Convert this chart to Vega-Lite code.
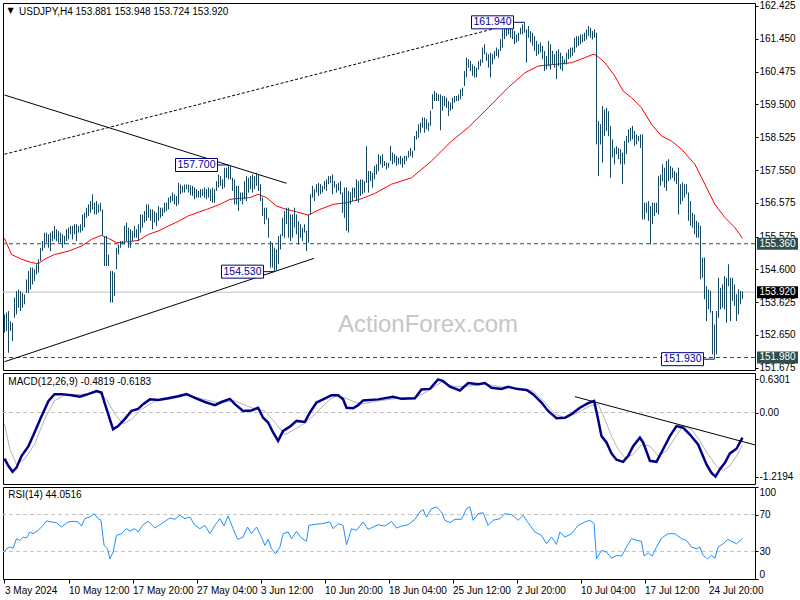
{
"$schema":"https://vega.github.io/schema/vega-lite/v6.json",
"background":"white",
"padding":{"left":2,"top":0,"right":0,"bottom":0},
"spacing":3,
"bounds":"flush",
"config":{
"view":{"stroke":"#000000","strokeWidth":1},
"axis":{"labelFont":"Liberation Sans","labelFontSize":10,"labelColor":"#000000","tickColor":"#000000","tickSize":3,"labelPadding":1,"domain":false,"grid":false,"labelOverlap":false},
"text":{"font":"Liberation Sans"}
},
"datasets":{
"bars":[
{"i":0,"p":152.72,"h":153.26},{"i":1,"p":152.77,"h":153.31},{"i":2,"p":152.12,"h":153.36},{"i":3,"p":152.77,"h":153.06},{"i":4,"p":152.47,"h":153.01},{"i":5,"p":153.16,"h":153.76},{"i":6,"p":153.26,"h":153.95},{"i":7,"p":153.46,"h":154.0},{"i":8,"p":153.36,"h":153.95},{"i":9,"p":153.46,"h":153.9},
{"i":10,"p":153.56,"h":153.85},{"i":11,"p":153.9,"h":154.3},{"i":12,"p":153.9,"h":154.55},{"i":13,"p":154.0,"h":154.65},{"i":14,"p":154.15,"h":154.65},{"i":15,"p":154.25,"h":154.6},{"i":16,"p":154.45,"h":154.75},{"i":17,"p":154.5,"h":154.9},{"i":18,"p":154.85,"h":155.24},{"i":19,"p":155.14,"h":155.44},
{"i":20,"p":155.24,"h":155.69},{"i":21,"p":155.39,"h":155.69},{"i":22,"p":155.24,"h":155.64},{"i":23,"p":155.14,"h":155.69},{"i":24,"p":155.44,"h":155.74},{"i":25,"p":155.49,"h":155.89},{"i":26,"p":155.44,"h":155.79},{"i":27,"p":155.39,"h":155.74},{"i":28,"p":155.39,"h":155.69},{"i":29,"p":155.24,"h":155.64},
{"i":30,"p":155.34,"h":155.59},{"i":31,"p":155.44,"h":155.79},{"i":32,"p":155.49,"h":155.84},{"i":33,"p":155.64,"h":155.89},{"i":34,"p":155.49,"h":155.89},{"i":35,"p":155.64,"h":155.94},{"i":36,"p":155.44,"h":155.94},{"i":37,"p":155.69,"h":155.89},{"i":38,"p":155.69,"h":155.94},{"i":39,"p":155.74,"h":156.23},
{"i":40,"p":155.84,"h":156.28},{"i":41,"p":156.13,"h":156.43},{"i":42,"p":156.18,"h":156.53},{"i":43,"p":156.28,"h":156.63},{"i":44,"p":156.38,"h":156.83},{"i":45,"p":156.23,"h":156.58},{"i":46,"p":156.23,"h":156.63},{"i":47,"p":156.28,"h":156.53},{"i":48,"p":156.33,"h":156.58},{"i":49,"p":155.59,"h":156.38},
{"i":50,"p":154.7,"h":155.59},{"i":51,"p":154.7,"h":155.59},{"i":52,"p":154.7,"h":155.04},{"i":53,"p":153.61,"h":154.55},{"i":54,"p":153.61,"h":154.55},{"i":55,"p":153.81,"h":154.5},{"i":56,"p":154.6,"h":155.24},{"i":57,"p":155.04,"h":155.34},{"i":58,"p":155.24,"h":155.44},{"i":59,"p":155.34,"h":155.44},
{"i":60,"p":155.34,"h":155.89},{"i":61,"p":155.44,"h":155.99},{"i":62,"p":155.24,"h":155.84},{"i":63,"p":155.24,"h":155.79},{"i":64,"p":155.44,"h":155.74},{"i":65,"p":155.54,"h":155.89},{"i":66,"p":155.54,"h":155.79},{"i":67,"p":155.44,"h":155.94},{"i":68,"p":155.69,"h":156.23},{"i":69,"p":155.84,"h":156.23},
{"i":70,"p":155.99,"h":156.33},{"i":71,"p":156.04,"h":156.53},{"i":72,"p":156.13,"h":156.53},{"i":73,"p":156.04,"h":156.38},{"i":74,"p":155.79,"h":156.38},{"i":75,"p":155.99,"h":156.33},{"i":76,"p":155.89,"h":156.28},{"i":77,"p":156.04,"h":156.48},{"i":78,"p":156.13,"h":156.43},{"i":79,"p":156.18,"h":156.43},
{"i":80,"p":156.28,"h":156.58},{"i":81,"p":156.33,"h":156.58},{"i":82,"p":156.38,"h":156.73},{"i":83,"p":156.58,"h":156.78},{"i":84,"p":156.63,"h":156.88},{"i":85,"p":156.53,"h":156.83},{"i":86,"p":156.48,"h":156.78},{"i":87,"p":156.53,"h":157.17},{"i":88,"p":156.83,"h":157.12},{"i":89,"p":156.88,"h":157.08},
{"i":90,"p":156.88,"h":157.12},{"i":91,"p":156.98,"h":157.12},{"i":92,"p":156.88,"h":157.12},{"i":93,"p":156.8,"h":157.1},{"i":94,"p":156.78,"h":157.08},{"i":95,"p":156.68,"h":157.03},{"i":96,"p":156.73,"h":156.98},{"i":97,"p":156.73,"h":156.93},{"i":98,"p":156.73,"h":156.98},{"i":99,"p":156.78,"h":156.98},
{"i":100,"p":156.73,"h":157.03},{"i":101,"p":156.68,"h":156.98},{"i":102,"p":156.73,"h":157.03},{"i":103,"p":156.63,"h":156.98},{"i":104,"p":156.58,"h":157.03},{"i":105,"p":156.58,"h":156.98},{"i":106,"p":156.93,"h":157.22},{"i":107,"p":157.03,"h":157.42},{"i":108,"p":157.08,"h":157.37},{"i":109,"p":156.98,"h":157.27},
{"i":110,"p":157.03,"h":157.62},{"i":111,"p":157.32,"h":157.62},{"i":112,"p":157.27,"h":157.7},{"i":113,"p":157.27,"h":157.67},{"i":114,"p":156.93,"h":157.32},{"i":115,"p":156.53,"h":157.27},{"i":116,"p":156.53,"h":157.08},{"i":117,"p":156.33,"h":157.08},{"i":118,"p":156.63,"h":156.88},{"i":119,"p":156.53,"h":156.88},
{"i":120,"p":156.68,"h":157.22},{"i":121,"p":156.63,"h":157.37},{"i":122,"p":156.88,"h":157.32},{"i":123,"p":156.98,"h":157.37},{"i":124,"p":156.88,"h":157.42},{"i":125,"p":156.98,"h":157.37},{"i":126,"p":157.08,"h":157.47},{"i":127,"p":156.93,"h":157.42},{"i":128,"p":156.63,"h":157.13},{"i":129,"p":156.18,"h":156.73},
{"i":130,"p":155.94,"h":156.43},{"i":131,"p":156.08,"h":156.43},{"i":132,"p":155.54,"h":156.13},{"i":133,"p":154.65,"h":155.44},{"i":134,"p":154.65,"h":155.39},{"i":135,"p":154.53,"h":155.24},{"i":136,"p":154.55,"h":155.19},{"i":137,"p":154.75,"h":155.59},{"i":138,"p":155.19,"h":155.64},{"i":139,"p":155.59,"h":156.13},
{"i":140,"p":155.54,"h":156.33},{"i":141,"p":155.94,"h":156.43},{"i":142,"p":155.54,"h":156.43},{"i":143,"p":155.44,"h":156.23},{"i":144,"p":155.54,"h":156.23},{"i":145,"p":155.84,"h":156.43},{"i":146,"p":155.64,"h":156.23},{"i":147,"p":155.34,"h":156.03},{"i":148,"p":155.54,"h":155.94},{"i":149,"p":155.44,"h":155.84},
{"i":150,"p":155.69,"h":155.94},{"i":151,"p":155.14,"h":155.74},{"i":152,"p":155.39,"h":156.23},{"i":153,"p":156.23,"h":156.83},{"i":154,"p":156.73,"h":157.08},{"i":155,"p":156.63,"h":156.98},{"i":156,"p":156.88,"h":157.13},{"i":157,"p":156.78,"h":157.17},{"i":158,"p":156.83,"h":157.13},{"i":159,"p":156.88,"h":157.08},
{"i":160,"p":156.98,"h":157.22},{"i":161,"p":156.93,"h":157.27},{"i":162,"p":157.13,"h":157.37},{"i":163,"p":157.17,"h":157.37},{"i":164,"p":156.83,"h":157.42},{"i":165,"p":157.03,"h":157.22},{"i":166,"p":156.88,"h":157.13},{"i":167,"p":156.93,"h":157.17},{"i":168,"p":156.83,"h":157.22},{"i":169,"p":156.28,"h":156.88},
{"i":170,"p":156.13,"h":157.03},{"i":171,"p":155.74,"h":157.03},{"i":172,"p":155.69,"h":156.93},{"i":173,"p":156.53,"h":156.88},{"i":174,"p":156.63,"h":157.03},{"i":175,"p":156.73,"h":157.03},{"i":176,"p":156.63,"h":157.27},{"i":177,"p":156.58,"h":157.22},{"i":178,"p":156.78,"h":157.27},{"i":179,"p":156.83,"h":157.27},
{"i":180,"p":156.88,"h":157.22},{"i":181,"p":157.17,"h":158.26},{"i":182,"p":156.88,"h":157.52},{"i":183,"p":157.22,"h":157.52},{"i":184,"p":157.03,"h":157.47},{"i":185,"p":157.27,"h":157.67},{"i":186,"p":157.42,"h":157.72},{"i":187,"p":157.52,"h":158.02},{"i":188,"p":157.72,"h":157.97},{"i":189,"p":157.62,"h":158.02},
{"i":190,"p":157.67,"h":157.82},{"i":191,"p":157.57,"h":157.77},{"i":192,"p":157.62,"h":157.77},{"i":193,"p":157.82,"h":158.27},{"i":194,"p":157.72,"h":158.07},{"i":195,"p":157.77,"h":158.02},{"i":196,"p":157.67,"h":157.97},{"i":197,"p":157.72,"h":157.92},{"i":198,"p":157.72,"h":157.97},{"i":199,"p":157.62,"h":157.92},
{"i":200,"p":157.72,"h":157.97},{"i":201,"p":157.82,"h":157.97},{"i":202,"p":157.92,"h":158.12},{"i":203,"p":157.97,"h":158.21},{"i":204,"p":157.92,"h":158.12},{"i":205,"p":158.12,"h":158.56},{"i":206,"p":158.46,"h":158.71},{"i":207,"p":158.51,"h":158.91},{"i":208,"p":158.66,"h":158.96},{"i":209,"p":158.81,"h":159.11},
{"i":210,"p":158.66,"h":159.11},{"i":211,"p":158.76,"h":159.06},{"i":212,"p":158.71,"h":158.96},{"i":213,"p":158.86,"h":159.31},{"i":214,"p":159.36,"h":159.8},{"i":215,"p":159.6,"h":159.9},{"i":216,"p":159.6,"h":159.85},{"i":217,"p":159.6,"h":159.8},{"i":218,"p":158.73,"h":159.8},{"i":219,"p":159.31,"h":159.75},
{"i":220,"p":159.45,"h":159.75},{"i":221,"p":159.4,"h":159.7},{"i":222,"p":159.16,"h":159.6},{"i":223,"p":159.31,"h":159.55},{"i":224,"p":159.36,"h":159.7},{"i":225,"p":159.55,"h":159.75},{"i":226,"p":159.6,"h":159.75},{"i":227,"p":159.6,"h":159.8},{"i":228,"p":159.65,"h":159.95},{"i":229,"p":159.75,"h":160.0},
{"i":230,"p":160.05,"h":160.49},{"i":231,"p":160.3,"h":160.89},{"i":232,"p":160.59,"h":160.84},{"i":233,"p":160.49,"h":160.79},{"i":234,"p":160.35,"h":160.69},{"i":235,"p":160.3,"h":160.64},{"i":236,"p":160.3,"h":160.59},{"i":237,"p":160.54,"h":160.79},{"i":238,"p":160.64,"h":160.84},{"i":239,"p":160.74,"h":161.19},
{"i":240,"p":160.99,"h":161.29},{"i":241,"p":160.79,"h":161.04},{"i":242,"p":160.59,"h":160.99},{"i":243,"p":160.3,"h":161.04},{"i":244,"p":160.69,"h":160.99},{"i":245,"p":160.84,"h":161.09},{"i":246,"p":160.94,"h":161.19},{"i":247,"p":160.89,"h":161.14},{"i":248,"p":161.09,"h":161.44},{"i":249,"p":161.19,"h":161.73},
{"i":250,"p":161.44,"h":161.78},{"i":251,"p":161.53,"h":161.83},{"i":252,"p":161.58,"h":161.83},{"i":253,"p":161.48,"h":161.88},{"i":254,"p":161.44,"h":161.73},{"i":255,"p":161.29,"h":161.68},{"i":256,"p":161.34,"h":161.58},{"i":257,"p":161.39,"h":161.63},{"i":258,"p":161.58,"h":161.78},{"i":259,"p":161.58,"h":161.88},
{"i":260,"p":161.63,"h":161.94},{"i":261,"p":160.74,"h":161.73},{"i":262,"p":161.48,"h":161.83},{"i":263,"p":161.34,"h":161.68},{"i":264,"p":161.24,"h":161.63},{"i":265,"p":161.09,"h":161.53},{"i":266,"p":160.94,"h":161.39},{"i":267,"p":160.99,"h":161.29},{"i":268,"p":161.04,"h":161.34},{"i":269,"p":160.84,"h":161.24},
{"i":270,"p":160.49,"h":161.09},{"i":271,"p":160.54,"h":160.94},{"i":272,"p":160.64,"h":161.39},{"i":273,"p":160.54,"h":161.29},{"i":274,"p":160.69,"h":161.09},{"i":275,"p":160.59,"h":160.99},{"i":276,"p":160.25,"h":161.09},{"i":277,"p":160.64,"h":161.14},{"i":278,"p":160.54,"h":161.04},{"i":279,"p":160.49,"h":160.94},
{"i":280,"p":160.69,"h":160.84},{"i":281,"p":160.69,"h":161.04},{"i":282,"p":160.84,"h":161.14},{"i":283,"p":160.89,"h":161.19},{"i":284,"p":160.94,"h":161.19},{"i":285,"p":161.04,"h":161.48},{"i":286,"p":161.19,"h":161.53},{"i":287,"p":161.24,"h":161.53},{"i":288,"p":161.29,"h":161.58},{"i":289,"p":161.34,"h":161.58},
{"i":290,"p":161.38,"h":161.63},{"i":291,"p":161.43,"h":161.73},{"i":292,"p":161.53,"h":161.83},{"i":293,"p":161.48,"h":161.78},{"i":294,"p":161.43,"h":161.68},{"i":295,"p":161.48,"h":161.73},{"i":296,"p":158.31,"h":161.63},{"i":297,"p":157.37,"h":159.01},{"i":298,"p":158.31,"h":158.91},{"i":299,"p":157.77,"h":159.45},
{"i":300,"p":158.56,"h":159.35},{"i":301,"p":158.71,"h":159.4},{"i":302,"p":158.56,"h":159.3},{"i":303,"p":157.32,"h":158.86},{"i":304,"p":157.92,"h":158.46},{"i":305,"p":157.72,"h":158.21},{"i":306,"p":158.02,"h":158.26},{"i":307,"p":157.87,"h":158.21},{"i":308,"p":157.72,"h":158.17},{"i":309,"p":157.13,"h":158.07},
{"i":310,"p":157.72,"h":158.41},{"i":311,"p":158.02,"h":158.56},{"i":312,"p":158.36,"h":158.76},{"i":313,"p":158.41,"h":158.81},{"i":314,"p":158.46,"h":158.86},{"i":315,"p":158.26,"h":158.71},{"i":316,"p":158.31,"h":158.61},{"i":317,"p":158.41,"h":158.56},{"i":318,"p":158.21,"h":158.61},{"i":319,"p":156.08,"h":158.61},
{"i":320,"p":156.08,"h":156.58},{"i":321,"p":156.28,"h":156.58},{"i":322,"p":156.04,"h":156.63},{"i":323,"p":155.34,"h":156.48},{"i":324,"p":155.94,"h":156.58},{"i":325,"p":156.18,"h":156.58},{"i":326,"p":156.28,"h":156.58},{"i":327,"p":156.23,"h":157.37},{"i":328,"p":157.08,"h":157.42},{"i":329,"p":157.22,"h":157.72},
{"i":330,"p":157.03,"h":157.62},{"i":331,"p":156.93,"h":157.82},{"i":332,"p":157.22,"h":157.87},{"i":333,"p":157.27,"h":157.67},{"i":334,"p":157.32,"h":157.62},{"i":335,"p":157.22,"h":157.52},{"i":336,"p":157.13,"h":157.47},{"i":337,"p":156.23,"h":157.62},{"i":338,"p":156.53,"h":157.13},{"i":339,"p":156.63,"h":157.18},
{"i":340,"p":156.73,"h":157.13},{"i":341,"p":156.83,"h":157.13},{"i":342,"p":156.04,"h":156.88},{"i":343,"p":155.89,"h":156.63},{"i":344,"p":155.84,"h":156.28},{"i":345,"p":155.64,"h":156.23},{"i":346,"p":155.54,"h":156.04},{"i":347,"p":155.54,"h":155.99},{"i":348,"p":154.3,"h":155.89},{"i":349,"p":154.35,"h":154.95},
{"i":350,"p":153.71,"h":154.95},{"i":351,"p":153.06,"h":154.1},{"i":352,"p":153.41,"h":154.0},{"i":353,"p":153.31,"h":153.96},{"i":354,"p":152.07,"h":153.36},{"i":355,"p":151.93,"h":152.96},{"i":356,"p":152.07,"h":153.36},{"i":357,"p":153.16,"h":154.35},{"i":358,"p":153.41,"h":154.05},{"i":359,"p":153.46,"h":154.15},
{"i":360,"p":153.41,"h":154.4},{"i":361,"p":153.01,"h":154.35},{"i":362,"p":154.1,"h":154.75},{"i":363,"p":153.06,"h":154.35},{"i":364,"p":153.66,"h":154.35},{"i":365,"p":153.51,"h":154.15},{"i":366,"p":153.06,"h":153.86},{"i":367,"p":153.26,"h":154.01},{"i":368,"p":153.56,"h":153.96},{"i":369,"p":153.72,"h":153.95}
],
"ma":[
{"i":0,"p":155.52},{"i":3.5,"p":155.04},{"i":8.5,"p":154.9},{"i":13.5,"p":154.8},{"i":17,"p":154.77},{"i":20,"p":154.9},{"i":25,"p":155.04},{"i":32,"p":155.14},{"i":38.5,"p":155.29},{"i":43.5,"p":155.49},{"i":48.5,"p":155.61},{"i":52,"p":155.52},{"i":56,"p":155.39},{"i":62,"p":155.42},{"i":67,"p":155.46},{"i":72,"p":155.64},{"i":77,"p":155.74},{"i":82,"p":155.89},{"i":87,"p":156.03},{"i":92,"p":156.19},{"i":101,"p":156.38},{"i":107.7,"p":156.53},{"i":112.7,"p":156.68},{"i":117.7,"p":156.71},{"i":122.7,"p":156.73},{"i":126.8,"p":156.83},{"i":131,"p":156.73},{"i":136,"p":156.48},{"i":141,"p":156.38},{"i":146,"p":156.31},{"i":151.8,"p":156.21},{"i":157.7,"p":156.38},{"i":164.3,"p":156.53},{"i":171,"p":156.58},{"i":177.7,"p":156.68},{"i":185,"p":156.85},{"i":193.5,"p":157.13},{"i":203.5,"p":157.32},{"i":213.5,"p":157.82},{"i":223.5,"p":158.41},{"i":231.8,"p":158.81},{"i":241.8,"p":159.4},{"i":251.8,"p":160.0},{"i":260.2,"p":160.44},{"i":266.8,"p":160.64},{"i":275.2,"p":160.69},{"i":283.5,"p":160.74},{"i":290.2,"p":160.89},{"i":294.3,"p":160.99},{"i":296,"p":160.96},{"i":300.2,"p":160.74},{"i":305.2,"p":160.34},{"i":309.3,"p":159.9},{"i":313.5,"p":159.7},{"i":318.5,"p":159.4},{"i":323.5,"p":158.91},{"i":328.5,"p":158.56},{"i":333.5,"p":158.41},{"i":338.5,"p":158.17},{"i":345.2,"p":157.72},{"i":350.2,"p":157.13},{"i":355.2,"p":156.53},{"i":360.2,"p":156.14},{"i":365.2,"p":155.84},{"i":369,"p":155.52}
],
"trend":[{"g":"a","i":0,"p":159.78},{"g":"a","i":141,"p":157.156},{"g":"b","i":0,"p":151.854},{"g":"b","i":154.8,"p":154.927}],
"trendDash":[{"i":0,"p":158.02},{"i":250,"p":161.83}],
"levels":[{"p":155.36,"t":"155.360","k":"s"},{"p":153.92,"t":"153.920","k":"c"},{"p":151.98,"t":"151.980","k":"s"}],
"notes":[{"i":112,"p":157.7,"t":"157.700"},{"i":135,"p":154.53,"t":"154.530"},{"i":260,"p":161.94,"t":"161.940"},{"i":355,"p":151.93,"t":"151.930"}],
"macd":[
{"i":0,"v":-0.88},{"i":2,"v":-1.02},{"i":4,"v":-1.13},{"i":6,"v":-1.05},{"i":8.5,"v":-0.83},{"i":12,"v":-0.64},{"i":15,"v":-0.38},{"i":18.5,"v":-0.07},{"i":22,"v":0.22},{"i":25,"v":0.35},{"i":28.5,"v":0.35},{"i":33.5,"v":0.33},{"i":37.7,"v":0.3},{"i":41.8,"v":0.35},{"i":46,"v":0.41},{"i":48.5,"v":0.38},{"i":50,"v":0.19},{"i":52.7,"v":-0.13},{"i":54.3,"v":-0.32},{"i":56.8,"v":-0.26},{"i":60,"v":-0.13},{"i":63.5,"v":0.03},{"i":66.8,"v":0.07},{"i":69.3,"v":0.16},{"i":72.7,"v":0.25},{"i":76.8,"v":0.24},{"i":81.8,"v":0.27},{"i":86.8,"v":0.31},{"i":91,"v":0.35},{"i":95.2,"v":0.28},{"i":100.2,"v":0.2},{"i":105.2,"v":0.14},{"i":108.5,"v":0.2},{"i":112.7,"v":0.26},{"i":115.2,"v":0.16},{"i":119.3,"v":0.03},{"i":123.5,"v":0.04},{"i":126.8,"v":0.09},{"i":129.3,"v":-0.1},{"i":131.8,"v":-0.19},{"i":134.3,"v":-0.38},{"i":136.8,"v":-0.54},{"i":139.3,"v":-0.35},{"i":142.7,"v":-0.27},{"i":146,"v":-0.16},{"i":150.2,"v":-0.18},{"i":152.7,"v":0.0},{"i":156,"v":0.19},{"i":159.3,"v":0.25},{"i":163.5,"v":0.33},{"i":166.8,"v":0.33},{"i":169.3,"v":0.25},{"i":171,"v":0.09},{"i":174.3,"v":0.08},{"i":176.8,"v":0.14},{"i":179.3,"v":0.23},{"i":186.8,"v":0.25},{"i":194.3,"v":0.3},{"i":198.5,"v":0.26},{"i":205.2,"v":0.27},{"i":208.5,"v":0.44},{"i":212.7,"v":0.45},{"i":216.8,"v":0.63},{"i":219.3,"v":0.6},{"i":222.7,"v":0.49},{"i":227.7,"v":0.42},{"i":231.8,"v":0.56},{"i":236.8,"v":0.54},{"i":240.2,"v":0.56},{"i":243.5,"v":0.47},{"i":248.5,"v":0.45},{"i":251.8,"v":0.49},{"i":256,"v":0.45},{"i":261,"v":0.43},{"i":264.3,"v":0.35},{"i":268.5,"v":0.19},{"i":271.8,"v":0.03},{"i":276,"v":-0.11},{"i":280.2,"v":-0.1},{"i":283.5,"v":-0.03},{"i":287.7,"v":0.09},{"i":291.8,"v":0.18},{"i":294.8,"v":0.22},{"i":296.8,"v":-0.13},{"i":298.5,"v":-0.45},{"i":301,"v":-0.57},{"i":303.5,"v":-0.78},{"i":306,"v":-0.9},{"i":309.3,"v":-0.94},{"i":311.8,"v":-0.83},{"i":314.3,"v":-0.64},{"i":317.7,"v":-0.48},{"i":319.3,"v":-0.57},{"i":322.7,"v":-0.92},{"i":326,"v":-0.94},{"i":329.3,"v":-0.7},{"i":332.7,"v":-0.45},{"i":336,"v":-0.26},{"i":339.3,"v":-0.29},{"i":342.7,"v":-0.42},{"i":346.8,"v":-0.61},{"i":351,"v":-0.99},{"i":353.5,"v":-1.15},{"i":355.5,"v":-1.22},{"i":357.7,"v":-1.08},{"i":360.2,"v":-0.96},{"i":362.7,"v":-0.78},{"i":366,"v":-0.69},{"i":369,"v":-0.48}
],
"signal":[
{"i":0,"v":-0.22},{"i":2.7,"v":-0.7},{"i":6,"v":-0.99},{"i":10,"v":-0.89},{"i":15,"v":-0.61},{"i":20,"v":-0.13},{"i":25,"v":0.22},{"i":30,"v":0.33},{"i":40,"v":0.35},{"i":46.8,"v":0.39},{"i":51,"v":0.25},{"i":55.2,"v":-0.03},{"i":59.3,"v":-0.22},{"i":63.5,"v":-0.13},{"i":68.5,"v":0.06},{"i":75.2,"v":0.22},{"i":81.8,"v":0.25},{"i":91.8,"v":0.33},{"i":98.5,"v":0.26},{"i":106.8,"v":0.19},{"i":115.2,"v":0.22},{"i":123.5,"v":0.09},{"i":130.2,"v":0.03},{"i":135.2,"v":-0.19},{"i":140.2,"v":-0.42},{"i":145.2,"v":-0.32},{"i":151,"v":-0.18},{"i":156.8,"v":0.03},{"i":162.7,"v":0.25},{"i":166.8,"v":0.33},{"i":171.8,"v":0.25},{"i":178.5,"v":0.16},{"i":186.8,"v":0.22},{"i":198.5,"v":0.28},{"i":205.2,"v":0.28},{"i":211.8,"v":0.41},{"i":218.5,"v":0.58},{"i":225.2,"v":0.49},{"i":231.8,"v":0.5},{"i":240.2,"v":0.54},{"i":248.5,"v":0.49},{"i":256.8,"v":0.47},{"i":264.3,"v":0.41},{"i":270.2,"v":0.19},{"i":275.2,"v":-0.03},{"i":280.2,"v":-0.1},{"i":286.8,"v":0.0},{"i":293.5,"v":0.14},{"i":296.8,"v":0.16},{"i":300.2,"v":-0.13},{"i":303.5,"v":-0.45},{"i":306.8,"v":-0.7},{"i":310.2,"v":-0.86},{"i":314.3,"v":-0.8},{"i":318.5,"v":-0.61},{"i":322.7,"v":-0.64},{"i":326.8,"v":-0.83},{"i":331,"v":-0.73},{"i":335.2,"v":-0.48},{"i":339.3,"v":-0.26},{"i":343.5,"v":-0.32},{"i":347.7,"v":-0.54},{"i":351.8,"v":-0.8},{"i":356,"v":-1.02},{"i":359.3,"v":-1.1},{"i":362.7,"v":-1.02},{"i":366,"v":-0.83},{"i":369,"v":-0.62}
],
"macdTrend":[{"i":285.2,"v":0.302},{"i":375.4,"v":-0.619}],
"zero":[{"v":0}],
"rsi":[
{"i":0,"v":29.2},{"i":1,"v":32.9},{"i":2.7,"v":34.7},{"i":4.3,"v":33.6},{"i":6,"v":43.8},{"i":7.7,"v":42.0},{"i":9.3,"v":45.6},{"i":11,"v":44.5},{"i":12.7,"v":51.1},{"i":14.3,"v":49.2},{"i":16.8,"v":52.9},{"i":19.3,"v":58.3},{"i":21,"v":63.1},{"i":23.5,"v":62.0},{"i":26,"v":61.2},{"i":28.5,"v":56.5},{"i":31.8,"v":62.0},{"i":34.3,"v":62.7},{"i":36.8,"v":62.0},{"i":38.5,"v":57.6},{"i":40.2,"v":65.6},{"i":42.7,"v":67.4},{"i":44.8,"v":71.0},{"i":46.8,"v":65.6},{"i":48.2,"v":63.8},{"i":49.8,"v":36.5},{"i":51.5,"v":32.9},{"i":52.7,"v":22.0},{"i":54.3,"v":29.2},{"i":56,"v":47.4},{"i":58.5,"v":49.2},{"i":61,"v":54.7},{"i":62.7,"v":52.1},{"i":65.2,"v":54.7},{"i":66.8,"v":51.1},{"i":69.3,"v":59.0},{"i":71.8,"v":62.7},{"i":75.2,"v":55.4},{"i":78.5,"v":60.1},{"i":82.7,"v":66.3},{"i":85.2,"v":64.9},{"i":87.7,"v":69.2},{"i":90.2,"v":65.6},{"i":92.7,"v":67.4},{"i":95.2,"v":58.3},{"i":97.7,"v":54.7},{"i":100.2,"v":58.3},{"i":102.7,"v":49.2},{"i":105.2,"v":58.3},{"i":107.7,"v":65.6},{"i":109.8,"v":57.6},{"i":111.8,"v":68.5},{"i":114.3,"v":54.7},{"i":116.5,"v":43.1},{"i":119.3,"v":45.6},{"i":121.5,"v":56.5},{"i":123.5,"v":49.2},{"i":126,"v":56.5},{"i":128.5,"v":45.6},{"i":130.2,"v":36.5},{"i":131.8,"v":43.1},{"i":133.5,"v":32.9},{"i":135.5,"v":27.4},{"i":137.7,"v":34.7},{"i":139.3,"v":49.2},{"i":141.8,"v":51.1},{"i":143.5,"v":43.8},{"i":146,"v":51.8},{"i":148.5,"v":44.5},{"i":151,"v":40.9},{"i":152.2,"v":58.3},{"i":155.2,"v":59.4},{"i":158.5,"v":60.1},{"i":162.7,"v":62.0},{"i":164.3,"v":54.7},{"i":166.8,"v":60.1},{"i":169.3,"v":58.3},{"i":171,"v":37.2},{"i":173.5,"v":54.7},{"i":176,"v":52.9},{"i":179.3,"v":62.0},{"i":181.8,"v":54.0},{"i":186.8,"v":59.0},{"i":190.2,"v":57.6},{"i":193.5,"v":62.7},{"i":196,"v":55.4},{"i":198.5,"v":57.6},{"i":201.8,"v":59.0},{"i":205.2,"v":64.9},{"i":207.7,"v":72.9},{"i":209.3,"v":75.4},{"i":211,"v":67.4},{"i":213.5,"v":76.5},{"i":216,"v":78.3},{"i":218.5,"v":72.9},{"i":220.2,"v":63.8},{"i":222.7,"v":61.2},{"i":225.2,"v":64.9},{"i":228.5,"v":64.9},{"i":231,"v":76.5},{"i":232.7,"v":78.3},{"i":234.3,"v":63.8},{"i":236.8,"v":71.0},{"i":239.3,"v":72.1},{"i":241.8,"v":58.3},{"i":244.3,"v":63.8},{"i":247.7,"v":65.6},{"i":250.2,"v":71.0},{"i":253.5,"v":70.0},{"i":256.8,"v":63.8},{"i":259.3,"v":69.2},{"i":261.8,"v":61.2},{"i":265.2,"v":51.1},{"i":268.5,"v":47.4},{"i":271,"v":38.3},{"i":273.5,"v":45.6},{"i":276,"v":37.6},{"i":277.7,"v":51.1},{"i":280.2,"v":45.6},{"i":283.5,"v":49.2},{"i":286.8,"v":58.3},{"i":290.2,"v":62.0},{"i":292.7,"v":63.8},{"i":294.8,"v":60.1},{"i":296,"v":22.0},{"i":298.5,"v":31.1},{"i":301,"v":29.2},{"i":303.5,"v":22.7},{"i":306,"v":25.6},{"i":308.5,"v":24.9},{"i":311,"v":34.7},{"i":313.5,"v":43.8},{"i":316,"v":42.0},{"i":318.5,"v":40.9},{"i":319.8,"v":24.9},{"i":321.8,"v":28.5},{"i":323.8,"v":24.9},{"i":326,"v":34.7},{"i":328.5,"v":44.5},{"i":331.8,"v":49.2},{"i":335.2,"v":49.2},{"i":338.5,"v":43.8},{"i":341,"v":42.0},{"i":343.5,"v":34.7},{"i":346,"v":32.9},{"i":347.7,"v":34.7},{"i":349.3,"v":25.6},{"i":351.5,"v":22.0},{"i":353.5,"v":25.6},{"i":355.2,"v":22.7},{"i":356.8,"v":34.7},{"i":359.3,"v":38.3},{"i":361.8,"v":43.1},{"i":364.3,"v":40.1},{"i":366,"v":38.3},{"i":369,"v":44.05}
],
"rsiLevels":[{"v":70},{"v":30}]
},
"vconcat":[
{
"width":752,"height":367,
"layer":[
{"data":{"values":[{"t":"ActionForex.com"}]},"mark":{"type":"text","fontSize":24,"color":"#c6c6c6","font":"Liberation Sans","align":"center","baseline":"middle"},
 "encoding":{"x":{"datum":211.75,"type":"quantitative","scale":{"domain":[-0.75,375.25],"nice":false,"zero":false},"axis":null},"y":{"datum":152.95,"type":"quantitative","scale":{"domain":[151.608,162.514],"nice":false,"zero":false},"axis":{"orient":"right","values":[162.425,161.45,160.475,159.5,158.525,157.55,156.575,155.575,154.6,153.625,152.65,151.675],"format":".3f","title":null,"labelFlush":false,"labelOverlap":false,"labelSeparation":-20,"labelAlign":"left","labelBaseline":"middle"}},"text":{"field":"t"}}},
{"data":{"name":"levels"},"transform":[{"filter":"datum.k == 's'"}],"mark":{"type":"rule","color":"#2f4f4f","strokeDash":[4,3],"strokeWidth":1},
 "encoding":{"y":{"field":"p","type":"quantitative","scale":{"domain":[151.608,162.514],"nice":false,"zero":false},"axis":{"orient":"right","values":[162.425,161.45,160.475,159.5,158.525,157.55,156.575,155.575,154.6,153.625,152.65,151.675],"format":".3f","title":null,"labelFlush":false,"labelOverlap":false,"labelSeparation":-20,"labelAlign":"left","labelBaseline":"middle"}}}},
{"data":{"name":"levels"},"transform":[{"filter":"datum.k == 'c'"}],"mark":{"type":"rule","color":"#c0c0c0","strokeWidth":1},
 "encoding":{"y":{"field":"p","type":"quantitative","scale":{"domain":[151.608,162.514],"nice":false,"zero":false},"axis":{"orient":"right","values":[162.425,161.45,160.475,159.5,158.525,157.55,156.575,155.575,154.6,153.625,152.65,151.675],"format":".3f","title":null,"labelFlush":false,"labelOverlap":false,"labelSeparation":-20,"labelAlign":"left","labelBaseline":"middle"}}}},
{"data":{"name":"trendDash"},"mark":{"type":"line","color":"#000000","strokeWidth":1,"strokeDash":[3,2],"clip":true},
 "encoding":{"x":{"field":"i","type":"quantitative","scale":{"domain":[-0.75,375.25],"nice":false,"zero":false},"axis":null},"y":{"field":"p","type":"quantitative","scale":{"domain":[151.608,162.514],"nice":false,"zero":false},"axis":{"orient":"right","values":[162.425,161.45,160.475,159.5,158.525,157.55,156.575,155.575,154.6,153.625,152.65,151.675],"format":".3f","title":null,"labelFlush":false,"labelOverlap":false,"labelSeparation":-20,"labelAlign":"left","labelBaseline":"middle"}}}},
{"data":{"name":"trend"},"mark":{"type":"line","color":"#000000","strokeWidth":1,"clip":true},
 "encoding":{"x":{"field":"i","type":"quantitative","scale":{"domain":[-0.75,375.25],"nice":false,"zero":false},"axis":null},"y":{"field":"p","type":"quantitative","scale":{"domain":[151.608,162.514],"nice":false,"zero":false},"axis":{"orient":"right","values":[162.425,161.45,160.475,159.5,158.525,157.55,156.575,155.575,154.6,153.625,152.65,151.675],"format":".3f","title":null,"labelFlush":false,"labelOverlap":false,"labelSeparation":-20,"labelAlign":"left","labelBaseline":"middle"}},"detail":{"field":"g"}}},
{"data":{"name":"ma"},"mark":{"type":"line","color":"#ff0000","strokeWidth":1,"clip":true},
 "encoding":{"x":{"field":"i","type":"quantitative","scale":{"domain":[-0.75,375.25],"nice":false,"zero":false},"axis":null},"y":{"field":"p","type":"quantitative","scale":{"domain":[151.608,162.514],"nice":false,"zero":false},"axis":{"orient":"right","values":[162.425,161.45,160.475,159.5,158.525,157.55,156.575,155.575,154.6,153.625,152.65,151.675],"format":".3f","title":null,"labelFlush":false,"labelOverlap":false,"labelSeparation":-20,"labelAlign":"left","labelBaseline":"middle"}}}},
{"data":{"name":"bars"},"mark":{"type":"rule","color":"#174862","strokeWidth":1,"clip":true},
 "encoding":{"x":{"field":"i","type":"quantitative","scale":{"domain":[-0.75,375.25],"nice":false,"zero":false},"axis":null},"y":{"field":"p","type":"quantitative","scale":{"domain":[151.608,162.514],"nice":false,"zero":false},"axis":{"orient":"right","values":[162.425,161.45,160.475,159.5,158.525,157.55,156.575,155.575,154.6,153.625,152.65,151.675],"format":".3f","title":null,"labelFlush":false,"labelOverlap":false,"labelSeparation":-20,"labelAlign":"left","labelBaseline":"middle"}},"y2":{"field":"h"}}},
{"data":{"name":"notes"},"mark":{"type":"rule","color":"#000080","strokeWidth":1,"x2Offset":-11},
 "encoding":{"x":{"field":"i","type":"quantitative","scale":{"domain":[-0.75,375.25],"nice":false,"zero":false},"axis":null},"x2":{"field":"i"},"y":{"field":"p","type":"quantitative","scale":{"domain":[151.608,162.514],"nice":false,"zero":false},"axis":{"orient":"right","values":[162.425,161.45,160.475,159.5,158.525,157.55,156.575,155.575,154.6,153.625,152.65,151.675],"format":".3f","title":null,"labelFlush":false,"labelOverlap":false,"labelSeparation":-20,"labelAlign":"left","labelBaseline":"middle"}}}},
{"data":{"name":"notes"},"mark":{"type":"tick","orient":"horizontal","size":42,"thickness":13,"fill":"#ffffff","stroke":"#000080","strokeWidth":1,"xOffset":-32,"opacity":1,"fillOpacity":1},
 "encoding":{"x":{"field":"i","type":"quantitative","scale":{"domain":[-0.75,375.25],"nice":false,"zero":false},"axis":null},"y":{"field":"p","type":"quantitative","scale":{"domain":[151.608,162.514],"nice":false,"zero":false},"axis":{"orient":"right","values":[162.425,161.45,160.475,159.5,158.525,157.55,156.575,155.575,154.6,153.625,152.65,151.675],"format":".3f","title":null,"labelFlush":false,"labelOverlap":false,"labelSeparation":-20,"labelAlign":"left","labelBaseline":"middle"}}}},
{"data":{"name":"notes"},"mark":{"type":"text","color":"#0000a0","fontSize":10.5,"dx":-32,"align":"center","baseline":"middle"},
 "encoding":{"x":{"field":"i","type":"quantitative","scale":{"domain":[-0.75,375.25],"nice":false,"zero":false},"axis":null},"y":{"field":"p","type":"quantitative","scale":{"domain":[151.608,162.514],"nice":false,"zero":false},"axis":{"orient":"right","values":[162.425,161.45,160.475,159.5,158.525,157.55,156.575,155.575,154.6,153.625,152.65,151.675],"format":".3f","title":null,"labelFlush":false,"labelOverlap":false,"labelSeparation":-20,"labelAlign":"left","labelBaseline":"middle"}},"text":{"field":"t"}}},
{"data":{"name":"levels"},"mark":{"type":"tick","orient":"horizontal","size":41,"thickness":12,"clip":false,"opacity":1},
 "encoding":{"x":{"datum":386.5,"type":"quantitative","scale":{"domain":[-0.75,375.25],"nice":false,"zero":false},"axis":null},"y":{"field":"p","type":"quantitative","scale":{"domain":[151.608,162.514],"nice":false,"zero":false},"axis":{"orient":"right","values":[162.425,161.45,160.475,159.5,158.525,157.55,156.575,155.575,154.6,153.625,152.65,151.675],"format":".3f","title":null,"labelFlush":false,"labelOverlap":false,"labelSeparation":-20,"labelAlign":"left","labelBaseline":"middle"}},
 "color":{"condition":{"test":"datum.k == 'c'","value":"#000000"},"value":"#2f4f4f"}}},
{"data":{"name":"levels"},"mark":{"type":"text","color":"#ffffff","fontSize":10,"align":"center","baseline":"middle","clip":false},
 "encoding":{"x":{"datum":386.5,"type":"quantitative","scale":{"domain":[-0.75,375.25],"nice":false,"zero":false},"axis":null},"y":{"field":"p","type":"quantitative","scale":{"domain":[151.608,162.514],"nice":false,"zero":false},"axis":{"orient":"right","values":[162.425,161.45,160.475,159.5,158.525,157.55,156.575,155.575,154.6,153.625,152.65,151.675],"format":".3f","title":null,"labelFlush":false,"labelOverlap":false,"labelSeparation":-20,"labelAlign":"left","labelBaseline":"middle"}},"text":{"field":"t"}}},
{"data":{"values":[{"t":"▼"}]},"mark":{"type":"text","fontSize":8,"color":"#000000","align":"center","baseline":"middle","font":"DejaVu Sans"},
 "encoding":{"x":{"datum":3.1,"type":"quantitative","scale":{"domain":[-0.75,375.25],"nice":false,"zero":false},"axis":null},"y":{"datum":162.27,"type":"quantitative","scale":{"domain":[151.608,162.514],"nice":false,"zero":false},"axis":{"orient":"right","values":[162.425,161.45,160.475,159.5,158.525,157.55,156.575,155.575,154.6,153.625,152.65,151.675],"format":".3f","title":null,"labelFlush":false,"labelOverlap":false,"labelSeparation":-20,"labelAlign":"left","labelBaseline":"middle"}},"text":{"field":"t"}}},
{"data":{"values":[{"t":"USDJPY,H4  153.881 153.948 153.724 153.920"}]},"mark":{"type":"text","fontSize":10,"color":"#000000","align":"left","baseline":"middle"},
 "encoding":{"x":{"datum":7.25,"type":"quantitative","scale":{"domain":[-0.75,375.25],"nice":false,"zero":false},"axis":null},"y":{"datum":162.256,"type":"quantitative","scale":{"domain":[151.608,162.514],"nice":false,"zero":false},"axis":{"orient":"right","values":[162.425,161.45,160.475,159.5,158.525,157.55,156.575,155.575,154.6,153.625,152.65,151.675],"format":".3f","title":null,"labelFlush":false,"labelOverlap":false,"labelSeparation":-20,"labelAlign":"left","labelBaseline":"middle"}},"text":{"field":"t"}}}
]
},
{
"width":752,"height":111,
"layer":[
{"data":{"name":"zero"},"mark":{"type":"rule","color":"#c0c0c0","strokeDash":[4,3],"strokeWidth":1},
 "encoding":{"y":{"field":"v","type":"quantitative","scale":{"domain":[-1.3619,0.7524],"nice":false,"zero":false},"axis":{"orient":"right","values":[0.6301,0,-1.2194],"labelExpr":"datum.value > 0.5 ? '0.6301' : (datum.value < -1 ? '-1.2194' : '0.00')","title":null,"labelFlush":false,"labelOverlap":false,"labelSeparation":-20,"labelAlign":"left","labelBaseline":"middle"}}}},
{"data":{"name":"signal"},"mark":{"type":"line","color":"#b4b4b4","strokeWidth":1,"clip":true},
 "encoding":{"x":{"field":"i","type":"quantitative","scale":{"domain":[-0.75,375.25],"nice":false,"zero":false},"axis":null},"y":{"field":"v","type":"quantitative","scale":{"domain":[-1.3619,0.7524],"nice":false,"zero":false},"axis":{"orient":"right","values":[0.6301,0,-1.2194],"labelExpr":"datum.value > 0.5 ? '0.6301' : (datum.value < -1 ? '-1.2194' : '0.00')","title":null,"labelFlush":false,"labelOverlap":false,"labelSeparation":-20,"labelAlign":"left","labelBaseline":"middle"}}}},
{"data":{"name":"macd"},"mark":{"type":"line","color":"#00008b","strokeWidth":2.5,"clip":true},
 "encoding":{"x":{"field":"i","type":"quantitative","scale":{"domain":[-0.75,375.25],"nice":false,"zero":false},"axis":null},"y":{"field":"v","type":"quantitative","scale":{"domain":[-1.3619,0.7524],"nice":false,"zero":false},"axis":{"orient":"right","values":[0.6301,0,-1.2194],"labelExpr":"datum.value > 0.5 ? '0.6301' : (datum.value < -1 ? '-1.2194' : '0.00')","title":null,"labelFlush":false,"labelOverlap":false,"labelSeparation":-20,"labelAlign":"left","labelBaseline":"middle"}}}},
{"data":{"name":"macdTrend"},"mark":{"type":"line","color":"#000000","strokeWidth":1,"clip":true},
 "encoding":{"x":{"field":"i","type":"quantitative","scale":{"domain":[-0.75,375.25],"nice":false,"zero":false},"axis":null},"y":{"field":"v","type":"quantitative","scale":{"domain":[-1.3619,0.7524],"nice":false,"zero":false},"axis":{"orient":"right","values":[0.6301,0,-1.2194],"labelExpr":"datum.value > 0.5 ? '0.6301' : (datum.value < -1 ? '-1.2194' : '0.00')","title":null,"labelFlush":false,"labelOverlap":false,"labelSeparation":-20,"labelAlign":"left","labelBaseline":"middle"}}}},
{"data":{"values":[{"t":"MACD(12,26,9) -0.4819 -0.6183"}]},"mark":{"type":"text","fontSize":10,"color":"#000000","align":"left","baseline":"middle"},
 "encoding":{"x":{"datum":1.9,"type":"quantitative","scale":{"domain":[-0.75,375.25],"nice":false,"zero":false},"axis":null},"y":{"datum":0.58,"type":"quantitative","scale":{"domain":[-1.3619,0.7524],"nice":false,"zero":false},"axis":{"orient":"right","values":[0.6301,0,-1.2194],"labelExpr":"datum.value > 0.5 ? '0.6301' : (datum.value < -1 ? '-1.2194' : '0.00')","title":null,"labelFlush":false,"labelOverlap":false,"labelSeparation":-20,"labelAlign":"left","labelBaseline":"middle"}},"text":{"field":"t"}}}
]
},
{
"width":752,"height":92,
"layer":[
{"data":{"name":"rsiLevels"},"mark":{"type":"rule","color":"#c0c0c0","strokeDash":[4,3],"strokeWidth":1},
 "encoding":{"y":{"field":"v","type":"quantitative","scale":{"domain":[0,100],"nice":false,"zero":false},"axis":{"orient":"right","values":[0,30,70,100],"title":null,"labelFlush":true,"labelOverlap":false,"labelSeparation":-20,"labelAlign":"left"}}}},
{"data":{"name":"rsi"},"mark":{"type":"line","color":"#1e90ff","strokeWidth":1,"clip":true},
 "encoding":{"x":{"field":"i","type":"quantitative","scale":{"domain":[-0.75,375.25],"nice":false,"zero":false},
   "axis":{"orient":"bottom","values":[0,32,64,96,128,160,192,224,256,288,320,352],"labelExpr":"['3 May 2024','10 May 12:00','17 May 20:00','27 May 04:00','3 Jun 12:00','10 Jun 20:00','18 Jun 04:00','25 Jun 12:00','2 Jul 20:00','10 Jul 04:00','17 Jul 12:00','24 Jul 20:00'][round(datum.value/32)]","labelAlign":"left","labelFlush":false,"labelOverlap":false,"tickSize":4,"labelPadding":2,"title":null}},
  "y":{"field":"v","type":"quantitative","scale":{"domain":[0,100],"nice":false,"zero":false},"axis":{"orient":"right","values":[0,30,70,100],"title":null,"labelFlush":true,"labelOverlap":false,"labelSeparation":-20,"labelAlign":"left"}}}},
{"data":{"values":[{"t":"RSI(14) 44.0516"}]},"mark":{"type":"text","fontSize":10,"color":"#000000","align":"left","baseline":"middle"},
 "encoding":{"x":{"datum":1.9,"type":"quantitative","scale":{"domain":[-0.75,375.25],"nice":false,"zero":false},
   "axis":{"orient":"bottom","values":[0,32,64,96,128,160,192,224,256,288,320,352],"labelExpr":"['3 May 2024','10 May 12:00','17 May 20:00','27 May 04:00','3 Jun 12:00','10 Jun 20:00','18 Jun 04:00','25 Jun 12:00','2 Jul 20:00','10 Jul 04:00','17 Jul 12:00','24 Jul 20:00'][round(datum.value/32)]","labelAlign":"left","labelFlush":false,"labelOverlap":false,"tickSize":4,"labelPadding":2,"title":null}},
  "y":{"datum":91.8,"type":"quantitative","scale":{"domain":[0,100],"nice":false,"zero":false},"axis":{"orient":"right","values":[0,30,70,100],"title":null,"labelFlush":true,"labelOverlap":false,"labelSeparation":-20,"labelAlign":"left"}},"text":{"field":"t"}}}
]
}
]
}
